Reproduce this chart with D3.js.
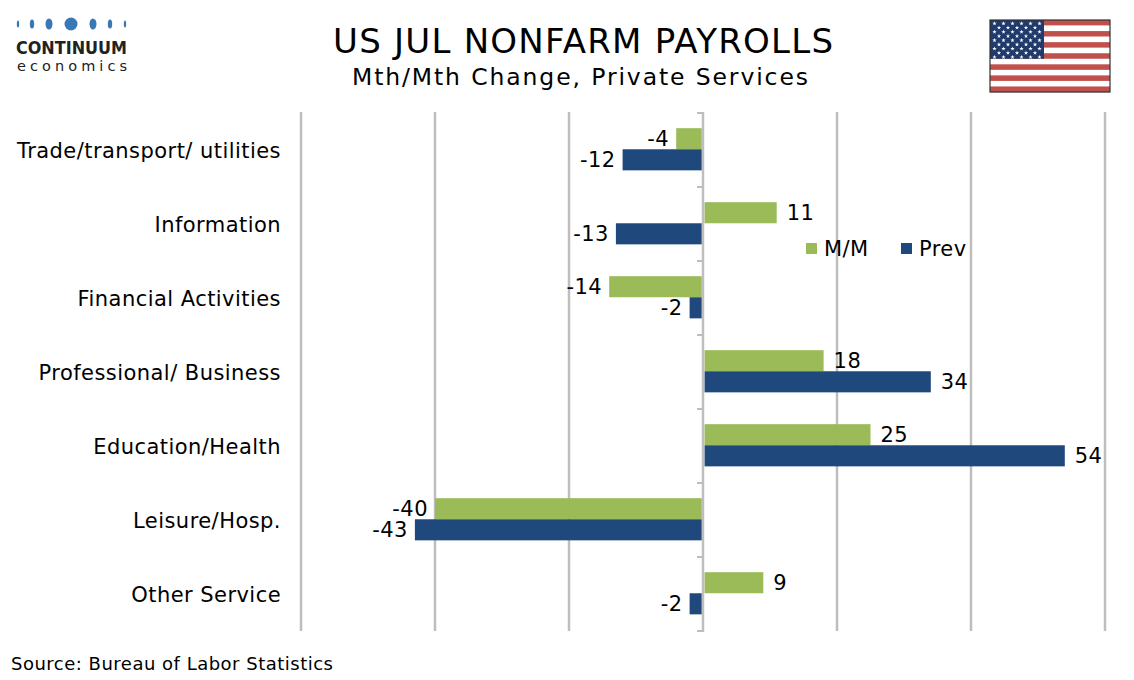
<!DOCTYPE html>
<html><head><meta charset="utf-8">
<script src="https://cdn.jsdelivr.net/npm/d3@7"></script>
<style>body{margin:0;background:#fff}svg{display:block}text{font-family:"DejaVu Sans",Verdana,sans-serif}</style>
</head><body>
<svg id="c" width="1134" height="680"></svg>
<script>
const categories = ["Trade/transport/ utilities","Information","Financial Activities","Professional/ Business","Education/Health","Leisure/Hosp.","Other Service"];
const seriesNames = ["M/M","Prev"];
const mm = [-4, 11, -14, 18, 25, -40, 9];
const prev = [-12, -13, -2, 34, 54, -43, -2];
const xTicks = [-60,-40,-20,0,20,40,60];
const colors = ["#9BBB59","#1F497D"];

const svg = d3.select("#c");
const x = d3.scaleLinear().domain([-60,60]).range([301,1105]);
const y = d3.scaleBand().domain(categories).range([113,631]).padding(0);
const bw = y.bandwidth();
const yi = d3.scaleBand().domain(seriesNames).range([bw*0.205, bw*0.775]);
const data = categories.map((c,i)=>({cat:c, vals:[{s:"M/M",v:mm[i]},{s:"Prev",v:prev[i]}]}));
const LS = "0.45px";

// gridlines
svg.append("g").selectAll("line").data(xTicks.filter(t=>t!==0)).join("line")
  .attr("x1",d=>x(d)).attr("x2",d=>x(d)).attr("y1",112).attr("y2",631)
  .attr("stroke","#BEBEBE").attr("stroke-width",2.5);

// bars
const g = svg.append("g").selectAll("g").data(data).join("g").attr("transform",d=>`translate(0,${y(d.cat)})`);
g.selectAll("rect").data(d=>d.vals).join("rect")
  .attr("x",d=>d.v<0?x(d.v):x(0)+1.5)
  .attr("width",d=>Math.abs(x(d.v)-x(0)) - (d.v<0?1.2:1.5))
  .attr("y",d=>yi(d.s)).attr("height",yi.bandwidth())
  .attr("fill",(d,i)=>colors[i]);
g.selectAll("text").data(d=>d.vals).join("text")
  .attr("x",d=>d.v<0?x(d.v)-7:x(d.v)+10)
  .attr("y",d=>yi(d.s)+yi.bandwidth()/2)
  .attr("dy","0.36em")
  .attr("text-anchor",d=>d.v<0?"end":"start")
  .attr("font-size",21).attr("letter-spacing",LS).attr("fill","#000")
  .text(d=>d.v);

// zero axis
svg.append("line").attr("x1",x(0)).attr("x2",x(0)).attr("y1",112).attr("y2",632).attr("stroke","#BEBEBE").attr("stroke-width",2.5);
const bounds = categories.map(c=>y(c)).concat([y(categories[categories.length-1])+bw]);
svg.append("g").selectAll("line").data(bounds).join("line")
  .attr("x1",x(0)-6).attr("x2",x(0)).attr("y1",d=>d).attr("y2",d=>d)
  .attr("stroke","#BEBEBE").attr("stroke-width",2);

// category labels
svg.append("g").selectAll("text").data(categories).join("text")
  .attr("x",281).attr("y",d=>y(d)+bw/2).attr("dy","0.36em")
  .attr("text-anchor","end").attr("font-size",21).attr("letter-spacing",LS).attr("fill","#000").text(d=>d);

// legend
const leg = svg.append("g");
const legX = [806, 901];
seriesNames.forEach((s,i)=>{
  leg.append("rect").attr("x",legX[i]).attr("y",243).attr("width",11).attr("height",11).attr("fill",colors[i]);
  leg.append("text").attr("x",legX[i]+18).attr("y",248).attr("dy","0.36em").attr("font-size",21).attr("letter-spacing",LS).text(s);
});

// titles
svg.append("text").attr("x",333).attr("y",53).attr("font-size",34).attr("textLength",500).attr("lengthAdjust","spacing").text("US JUL NONFARM PAYROLLS");
svg.append("text").attr("x",352).attr("y",85).attr("font-size",23.5).attr("textLength",456).attr("lengthAdjust","spacing").text("Mth/Mth Change, Private Services");
svg.append("text").attr("x",11).attr("y",670).attr("font-size",18).attr("textLength",322).attr("lengthAdjust","spacing").text("Source: Bureau of Labor Statistics");

// logo
const logo = svg.append("g");
const dots = [[18,1.2,3.5],[32,2.2,4.5],[49,3.5,5.5],[71,6.5,6.5],[93,3.5,5.5],[110,2.2,4.5],[125,1.2,3.5]];
dots.forEach(d=>logo.append("ellipse").attr("cx",d[0]).attr("cy",24).attr("rx",d[1]).attr("ry",d[2]).attr("fill","#3A78B5"));
logo.append("text").attr("x",16).attr("y",54).attr("font-size",18.5).attr("font-weight","bold").attr("fill","#222").attr("textLength",111).attr("lengthAdjust","spacingAndGlyphs").text("CONTINUUM");
logo.append("text").attr("x",17).attr("y",71).attr("font-size",14.5).attr("fill","#222").attr("textLength",110).attr("lengthAdjust","spacing").text("economics");

// flag
const fl = svg.append("g").attr("transform","translate(990,20)");
const FW=120, FH=72;
for(let i=0;i<13;i++){
  fl.append("rect").attr("x",0).attr("y",i*FH/13).attr("width",FW).attr("height",FH/13+0.2).attr("fill",i%2===0?"#C0504D":"#FFFFFF");
}
fl.append("rect").attr("x",0).attr("y",0).attr("width",54).attr("height",FH*7/13).attr("fill","#1F3A6B");
for(let r=0;r<9;r++){
  const n = r%2===0?6:5;
  for(let c=0;c<n;c++){
    const sx = (r%2===0? 4.5 + c*9 : 9 + c*9);
    const sy = 3.5 + r*4.2;
    fl.append("path").attr("d",d3.symbol(d3.symbolStar,6)()).attr("transform",`translate(${sx},${sy})`).attr("fill","#fff");
  }
}
fl.append("rect").attr("x",0).attr("y",0).attr("width",FW).attr("height",FH).attr("fill","none").attr("stroke","#333").attr("stroke-width",1.2);
</script>
</body></html>
